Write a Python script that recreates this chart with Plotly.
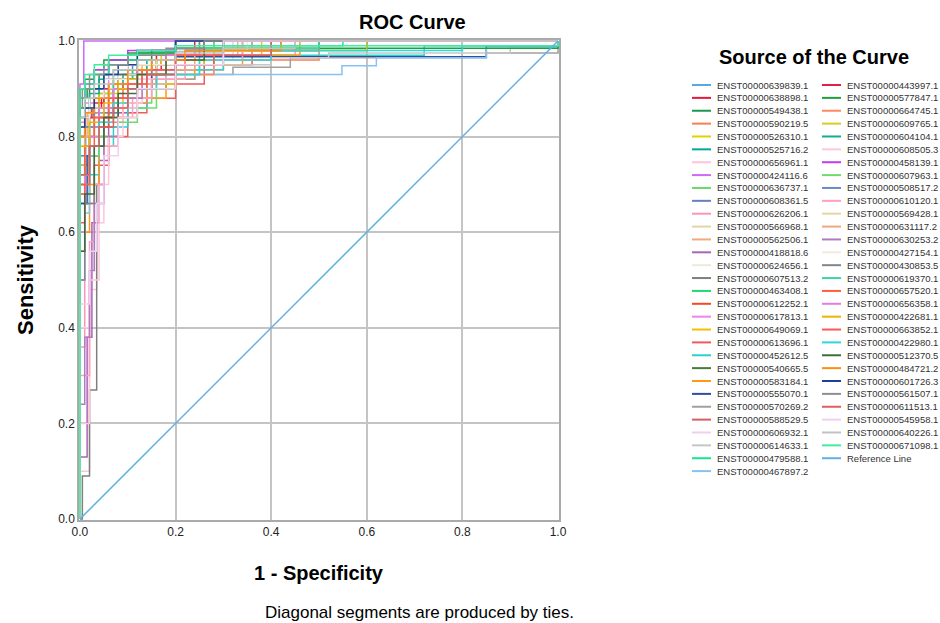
import plotly.graph_objects as go

# ---------------- data ----------------
NAMES_LEFT = [
    "ENST00000639839.1", "ENST00000638898.1", "ENST00000549438.1", "ENST00000590219.5",
    "ENST00000526310.1", "ENST00000525716.2", "ENST00000656961.1", "ENST00000424116.6",
    "ENST00000636737.1", "ENST00000608361.5", "ENST00000626206.1", "ENST00000566968.1",
    "ENST00000562506.1", "ENST00000418818.6", "ENST00000624656.1", "ENST00000607513.2",
    "ENST00000463408.1", "ENST00000612252.1", "ENST00000617813.1", "ENST00000649069.1",
    "ENST00000613696.1", "ENST00000452612.5", "ENST00000540665.5", "ENST00000583184.1",
    "ENST00000555070.1", "ENST00000570269.2", "ENST00000588529.5", "ENST00000606932.1",
    "ENST00000614633.1", "ENST00000479588.1", "ENST00000467897.2",
]
COLORS_LEFT = [
    "#56A8E6", "#E5173E", "#1A9850", "#FA7F50", "#E3D100", "#00A99A", "#FFC4DC", "#CE6BF5",
    "#6DD66D", "#6480BE", "#FF94B8", "#DDD6AA", "#EFAA80", "#A865B8", "#EEEAD8", "#7F7F7F",
    "#1FD873", "#EE4B2B", "#EE82EE", "#F5BE00", "#F05A5A", "#2FCFCF", "#477A3D", "#FF9915",
    "#2E4E9E", "#A0A0A0", "#D35F5F", "#EDD0F0", "#C6C6C6", "#14E68E", "#86C2F2",
]
FPR_LEFT = [
    [0, 0, 0.012, 0.03, 0.05, 0.08, 0.12, 0.18, 0.3, 1],
    [0, 0, 0.01, 0.025, 0.045, 0.07, 0.1, 0.16, 0.24, 1],
    [0, 0, 0.015, 0.04, 0.06, 0.1, 0.2, 0.42, 1],
    [0, 0, 0.02, 0.04, 0.07, 0.12, 0.2, 0.3, 0.5, 1],
    [0, 0, 0.01, 0.03, 0.06, 0.1, 0.16, 0.26, 0.5, 1],
    [0, 0, 0.02, 0.05, 0.09, 0.14, 0.22, 0.36, 1],
    [0, 0, 0.02, 0.035, 0.05, 0.08, 0.12, 0.2, 0.32, 1],
    [0, 0, 0.008, 1],
    [0, 0, 0.02, 0.05, 0.1, 0.15, 0.2, 0.25, 0.4, 1],
    [0, 0, 0.01, 0.02, 0.04, 0.07, 0.11, 0.18, 0.3, 1],
    [0, 0, 0.01, 0.03, 0.05, 0.08, 0.12, 0.18, 0.28, 0.45, 1],
    [0, 0, 0.02, 0.05, 0.1, 0.2, 0.3, 1],
    [0, 0, 0.015, 0.04, 0.08, 0.13, 0.2, 0.33, 1],
    [0, 0, 0.015, 0.025, 0.04, 0.06, 0.1, 0.16, 0.26, 1],
    [0, 0, 0.03, 0.08, 0.15, 0.3, 1],
    [0, 0.005, 0.02, 0.035, 0.05, 0.08, 0.12, 0.2, 0.28, 1],
    [0, 0, 0.01, 0.02, 0.04, 0.07, 0.11, 0.16, 0.25, 0.6, 1],
    [0, 0, 0.02, 0.04, 0.06, 0.1, 0.15, 0.22, 0.34, 1],
    [0, 0, 0.01, 0.03, 0.06, 0.1, 0.18, 0.26, 1],
    [0, 0, 0.02, 0.05, 0.09, 0.14, 0.2, 0.26, 0.38, 1],
    [0, 0, 0.01, 0.03, 0.06, 0.1, 0.14, 0.2, 0.26, 0.36, 0.5, 1],
    [0, 0, 0.02, 0.04, 0.07, 0.1, 0.14, 0.18, 0.3, 0.72, 1],
    [0, 0, 0.01, 0.02, 0.05, 0.1, 0.15, 0.2, 1],
    [0, 0, 0.02, 0.04, 0.08, 0.12, 0.18, 0.24, 0.34, 0.46, 1],
    [0, 0, 0.015, 0.04, 0.07, 0.1, 0.15, 0.2, 0.85, 1],
    [0, 0, 0.01, 0.03, 0.06, 0.1, 0.16, 0.24, 0.32, 0.44, 0.85, 1],
    [0, 0, 0.01, 0.02, 0.04, 0.06, 0.1, 0.15, 0.22, 0.3, 1],
    [0, 0, 0.02, 0.03, 0.05, 0.08, 0.12, 0.2, 0.3, 1],
    [0, 0, 0.02, 0.05, 0.1, 0.18, 0.28, 0.4, 0.52, 0.9, 1],
    [0, 0, 0.01, 0.03, 0.06, 0.12, 0.2, 0.3, 0.55, 1],
    [0, 0, 0.01, 0.02, 0.04, 0.06, 0.1, 0.548, 0.62, 0.85, 1],
]
TPR_LEFT = [
    [0, 0.74, 0.8, 0.85, 0.9, 0.93, 0.96, 0.98, 1, 1],
    [0, 0.8, 0.84, 0.86, 0.88, 0.9, 0.94, 0.97, 1, 1],
    [0, 0.88, 0.9, 0.93, 0.95, 0.97, 0.98, 1, 1],
    [0, 0.7, 0.78, 0.84, 0.88, 0.91, 0.94, 0.96, 1, 1],
    [0, 0.78, 0.84, 0.88, 0.91, 0.94, 0.96, 0.98, 1, 1],
    [0, 0.84, 0.88, 0.9, 0.93, 0.96, 0.98, 1, 1],
    [0, 0.1, 0.48, 0.62, 0.8, 0.88, 0.93, 0.96, 1, 1],
    [0, 0.91, 1, 1],
    [0, 0.76, 0.8, 0.84, 0.87, 0.9, 0.93, 0.96, 1, 1],
    [0, 0.66, 0.74, 0.82, 0.88, 0.92, 0.95, 0.97, 1, 1],
    [0, 0.36, 0.6, 0.7, 0.78, 0.85, 0.9, 0.94, 0.97, 1, 1],
    [0, 0.82, 0.88, 0.92, 0.95, 0.98, 1, 1],
    [0, 0.8, 0.85, 0.9, 0.92, 0.95, 0.97, 1, 1],
    [0, 0.13, 0.38, 0.62, 0.75, 0.85, 0.91, 0.95, 1, 1],
    [0, 0.86, 0.9, 0.94, 0.97, 1, 1],
    [0, 0.09, 0.27, 0.7, 0.82, 0.88, 0.93, 0.96, 1, 1],
    [0, 0.74, 0.82, 0.86, 0.89, 0.92, 0.94, 0.96, 0.98, 1, 1],
    [0, 0.68, 0.76, 0.82, 0.86, 0.9, 0.94, 0.97, 1, 1],
    [0, 0.83, 0.87, 0.9, 0.93, 0.96, 0.98, 1, 1],
    [0, 0.74, 0.8, 0.84, 0.88, 0.91, 0.94, 0.97, 1, 1],
    [0, 0.56, 0.66, 0.74, 0.8, 0.85, 0.88, 0.91, 0.95, 0.98, 1, 1],
    [0, 0.66, 0.72, 0.78, 0.82, 0.86, 0.9, 0.94, 0.97, 0.99, 1],
    [0, 0.84, 0.88, 0.9, 0.93, 0.96, 0.98, 1, 1],
    [0, 0.6, 0.7, 0.78, 0.84, 0.88, 0.92, 0.95, 0.97, 1, 1],
    [0, 0.66, 0.76, 0.84, 0.88, 0.9, 0.93, 0.967, 0.99, 1],
    [0, 0.72, 0.8, 0.85, 0.88, 0.9, 0.92, 0.93, 0.945, 0.965, 0.975, 1],
    [0, 0.7, 0.78, 0.84, 0.88, 0.91, 0.94, 0.96, 0.98, 1, 1],
    [0, 0.4, 0.52, 0.66, 0.78, 0.86, 0.92, 0.96, 1, 1],
    [0, 0.8, 0.84, 0.88, 0.91, 0.93, 0.95, 0.965, 0.975, 0.985, 1],
    [0, 0.86, 0.9, 0.93, 0.96, 0.975, 0.985, 0.99, 1, 1],
    [0, 0.5, 0.64, 0.76, 0.84, 0.91, 0.93, 0.948, 0.965, 0.985, 1],
]

NAMES_RIGHT = [
    "ENST00000443997.1", "ENST00000577847.1", "ENST00000664745.1", "ENST00000609765.1",
    "ENST00000604104.1", "ENST00000608505.3", "ENST00000458139.1", "ENST00000607963.1",
    "ENST00000508517.2", "ENST00000610120.1", "ENST00000569428.1", "ENST00000631117.2",
    "ENST00000630253.2", "ENST00000427154.1", "ENST00000430853.5", "ENST00000619370.1",
    "ENST00000657520.1", "ENST00000656358.1", "ENST00000422681.1", "ENST00000663852.1",
    "ENST00000422980.1", "ENST00000512370.5", "ENST00000484721.2", "ENST00000601726.3",
    "ENST00000561507.1", "ENST00000611513.1", "ENST00000545958.1", "ENST00000640226.1",
    "ENST00000671098.1",
]
COLORS_RIGHT = [
    "#E61E48", "#1FA040", "#FF8A5E", "#DCCB1E", "#12AD8C", "#FFC6DE", "#BF3DF0", "#6FDB6F",
    "#688AC6", "#FF9EC0", "#E3D8A4", "#F0A67E", "#AD7DBD", "#F0ECDD", "#7E868C", "#3ED6A0",
    "#FF5E3E", "#E27DE6", "#EFB400", "#FF5858", "#2ED6DE", "#3F6B3F", "#FF8E0E", "#1F3F9F",
    "#8F8F8F", "#DE5E5E", "#F0CFF2", "#C2C2C2", "#3EEE9E",
]
FPR_RIGHT = [
    [0, 0, 0.01, 0.03, 0.05, 0.08, 0.12, 0.17, 0.22, 0.3, 1],
    [0, 0, 0.01, 0.03, 0.05, 0.1, 0.2, 1],
    [0, 0, 0.02, 0.05, 0.09, 0.14, 0.2, 0.28, 0.4, 1],
    [0, 0, 0.01, 0.04, 0.08, 0.12, 0.17, 0.25, 1],
    [0, 0, 0.02, 0.04, 0.07, 0.12, 0.2, 0.3, 1],
    [0, 0, 0.02, 0.04, 0.06, 0.09, 0.13, 0.2, 0.3, 1],
    [0, 0, 0.01, 0.03, 0.06, 0.1, 0.2, 1],
    [0, 0, 0.02, 0.04, 0.08, 0.12, 0.16, 0.2, 0.28, 1],
    [0, 0, 0.01, 0.03, 0.06, 0.1, 0.15, 0.24, 0.5, 1],
    [0, 0, 0.02, 0.03, 0.05, 0.08, 0.11, 0.15, 0.22, 0.34, 1],
    [0, 0, 0.02, 0.06, 0.1, 0.16, 0.26, 0.4, 1],
    [0, 0, 0.01, 0.03, 0.06, 0.1, 0.16, 0.24, 0.36, 1],
    [0, 0, 0.01, 0.02, 0.03, 0.05, 0.08, 0.13, 0.2, 1],
    [0, 0, 0.02, 0.05, 0.1, 0.2, 0.35, 1],
    [0, 0, 0.01, 0.03, 0.05, 0.08, 0.12, 0.18, 0.25, 1],
    [0, 0, 0.01, 0.03, 0.06, 0.1, 0.2, 0.5, 1],
    [0, 0, 0.01, 0.03, 0.06, 0.09, 0.13, 0.18, 0.26, 1],
    [0, 0, 0.01, 0.02, 0.04, 0.07, 0.12, 0.18, 0.4, 1],
    [0, 0, 0.02, 0.05, 0.08, 0.12, 0.18, 0.28, 0.6, 1],
    [0, 0, 0.01, 0.02, 0.04, 0.07, 0.1, 0.14, 0.2, 0.3, 1],
    [0, 0, 0.02, 0.04, 0.07, 0.1, 0.16, 0.25, 0.4, 0.8, 1],
    [0, 0, 0.01, 0.03, 0.05, 0.08, 0.12, 0.18, 0.26, 1],
    [0, 0, 0.01, 0.03, 0.06, 0.1, 0.15, 0.22, 0.42, 1],
    [0, 0, 0.01, 0.03, 0.05, 0.08, 0.12, 0.2, 1],
    [0, 0, 0.005, 0.02, 0.05, 0.1, 0.18, 0.26, 1],
    [0, 0, 0.02, 0.04, 0.07, 0.1, 0.14, 0.2, 0.28, 0.4, 1],
    [0, 0, 0.02, 0.035, 0.05, 0.08, 0.12, 0.2, 0.3, 1],
    [0, 0, 0.01, 0.03, 0.07, 0.12, 0.2, 0.3, 0.45, 1],
    [0, 0, 0.01, 0.03, 0.06, 0.12, 0.2, 1],
]
TPR_RIGHT = [
    [0, 0.8, 0.84, 0.87, 0.9, 0.92, 0.94, 0.96, 0.98, 1, 1],
    [0, 0.9, 0.92, 0.94, 0.96, 0.975, 0.985, 1],
    [0, 0.72, 0.78, 0.83, 0.87, 0.9, 0.93, 0.96, 1, 1],
    [0, 0.82, 0.86, 0.89, 0.92, 0.95, 0.97, 1, 1],
    [0, 0.86, 0.89, 0.92, 0.94, 0.96, 0.98, 1, 1],
    [0, 0.2, 0.5, 0.7, 0.8, 0.87, 0.92, 0.96, 1, 1],
    [0, 0.88, 0.91, 0.94, 0.96, 0.98, 1, 1],
    [0, 0.7, 0.76, 0.8, 0.83, 0.86, 0.9, 0.95, 1, 1],
    [0, 0.76, 0.82, 0.86, 0.9, 0.93, 0.96, 0.98, 1, 1],
    [0, 0.3, 0.58, 0.7, 0.78, 0.84, 0.88, 0.92, 0.96, 1, 1],
    [0, 0.8, 0.86, 0.9, 0.93, 0.96, 0.98, 1, 1],
    [0, 0.74, 0.8, 0.84, 0.88, 0.91, 0.94, 0.97, 1, 1],
    [0, 0.24, 0.38, 0.52, 0.66, 0.8, 0.88, 0.94, 1, 1],
    [0, 0.84, 0.88, 0.92, 0.95, 0.98, 1, 1],
    [0, 0.5, 0.66, 0.78, 0.85, 0.9, 0.94, 0.97, 1, 1],
    [0, 0.88, 0.91, 0.93, 0.95, 0.97, 0.985, 1, 1],
    [0, 0.7, 0.78, 0.84, 0.88, 0.91, 0.94, 0.97, 1, 1],
    [0, 0.6, 0.72, 0.8, 0.86, 0.9, 0.94, 0.97, 1, 1],
    [0, 0.78, 0.83, 0.87, 0.9, 0.93, 0.96, 0.98, 1, 1],
    [0, 0.62, 0.7, 0.78, 0.84, 0.88, 0.91, 0.94, 0.97, 1, 1],
    [0, 0.72, 0.78, 0.83, 0.87, 0.9, 0.93, 0.96, 0.98, 0.99, 1],
    [0, 0.56, 0.68, 0.78, 0.84, 0.89, 0.93, 0.96, 1, 1],
    [0, 0.8, 0.85, 0.88, 0.91, 0.94, 0.96, 0.98, 1, 1],
    [0, 0.82, 0.86, 0.9, 0.93, 0.95, 0.98, 1, 1],
    [0, 0.86, 0.9, 0.93, 0.95, 0.97, 0.985, 1, 1],
    [0, 0.72, 0.78, 0.82, 0.86, 0.9, 0.93, 0.95, 0.97, 1, 1],
    [0, 0.45, 0.56, 0.66, 0.76, 0.84, 0.9, 0.95, 1, 1],
    [0, 0.84, 0.88, 0.91, 0.94, 0.96, 0.975, 0.985, 1, 1],
    [0, 0.9, 0.93, 0.95, 0.97, 0.98, 0.99, 1],
]

REF_NAME = "Reference Line"
REF_COLOR = "#5DB0E8"
REF_X = [0, 1]
REF_Y = [0, 1]

TICK_VALUES = [0, 0.2, 0.4, 0.6, 0.8, 1.0]
TICK_LABELS = ["0.0", "0.2", "0.4", "0.6", "0.8", "1.0"]

# ---------------- layout helpers ----------------
PL, PT, PW, PH = 79, 40, 480, 480
FONT = "Liberation Sans, Arial, sans-serif"


def px(x):
    return (x - PL) / PW


def py(y):
    return (PT + PH - y) / PH


fig = go.Figure()

for names, colors, fprs, tprs in ((NAMES_LEFT, COLORS_LEFT, FPR_LEFT, TPR_LEFT),
                                  (NAMES_RIGHT, COLORS_RIGHT, FPR_RIGHT, TPR_RIGHT)):
    for n, c, f, t in zip(names, colors, fprs, tprs):
        fig.add_trace(go.Scatter(x=f, y=t, mode="lines", name=n,
                                 line=dict(color=c, width=1.5, shape="hv"),
                                 showlegend=False, hoverinfo="skip"))

fig.add_trace(go.Scatter(x=REF_X, y=REF_Y, mode="lines", name=REF_NAME,
                         line=dict(color=REF_COLOR, width=1.5),
                         showlegend=False, hoverinfo="skip"))

annotations = [
    dict(text="ROC Curve", x=px(412), y=py(22), font=dict(size=20, weight="bold")),
    dict(text="1 - Specificity", x=px(319), y=py(573), font=dict(size=20, weight="bold")),
    dict(text="Sensitivity", x=px(25), y=py(280), textangle=-90, font=dict(size=22, weight="bold")),
    dict(text="Diagonal segments are produced by ties.", x=px(419), y=py(612), font=dict(size=17)),
    dict(text="Source of the Curve", x=px(814), y=py(57), font=dict(size=20, weight="bold")),
]
shapes = []

ROW0, ROW_STEP = 85, 12.87
legend_cols = [
    (NAMES_LEFT, COLORS_LEFT, 692),
    (NAMES_RIGHT + [REF_NAME], COLORS_RIGHT + [REF_COLOR], 822),
]
for names, colors, x0 in legend_cols:
    for i, (n, c) in enumerate(zip(names, colors)):
        yy = ROW0 + i * ROW_STEP
        shapes.append(dict(type="line", xref="paper", yref="paper",
                           x0=px(x0), x1=px(x0 + 19), y0=py(yy), y1=py(yy),
                           line=dict(color=c, width=2)))
        annotations.append(dict(text=n, x=px(x0 + 23), y=py(yy), xanchor="left",
                                font=dict(size=9.5, color="#333333")))

for a in annotations:
    a.setdefault("xref", "paper")
    a.setdefault("yref", "paper")
    a.setdefault("showarrow", False)
    a.setdefault("xanchor", "center")
    a.setdefault("yanchor", "middle")
    a["font"].setdefault("family", FONT)
    a["font"].setdefault("color", "#000000")

axis_common = dict(
    tickvals=TICK_VALUES, ticktext=TICK_LABELS, showgrid=True,
    gridcolor="#C4C4C4", gridwidth=1.5, zeroline=False,
    showline=True, mirror=True, linecolor="#AAAAAA", linewidth=1.5,
    ticks="", tickfont=dict(family=FONT, size=12, color="#222222"),
    range=[-0.002, 1.002], fixedrange=True,
)

fig.update_layout(
    width=940, height=623,
    margin=dict(l=PL, r=940 - PL - PW, t=PT, b=623 - PT - PH),
    paper_bgcolor="white", plot_bgcolor="white",
    xaxis=axis_common, yaxis=axis_common,
    annotations=annotations, shapes=shapes,
    showlegend=False,
)

fig.write_html(
    "out.html",
    config={"displayModeBar": False},
    post_script="document.body.style.margin='0px';document.body.style.overflow='hidden';",
)
